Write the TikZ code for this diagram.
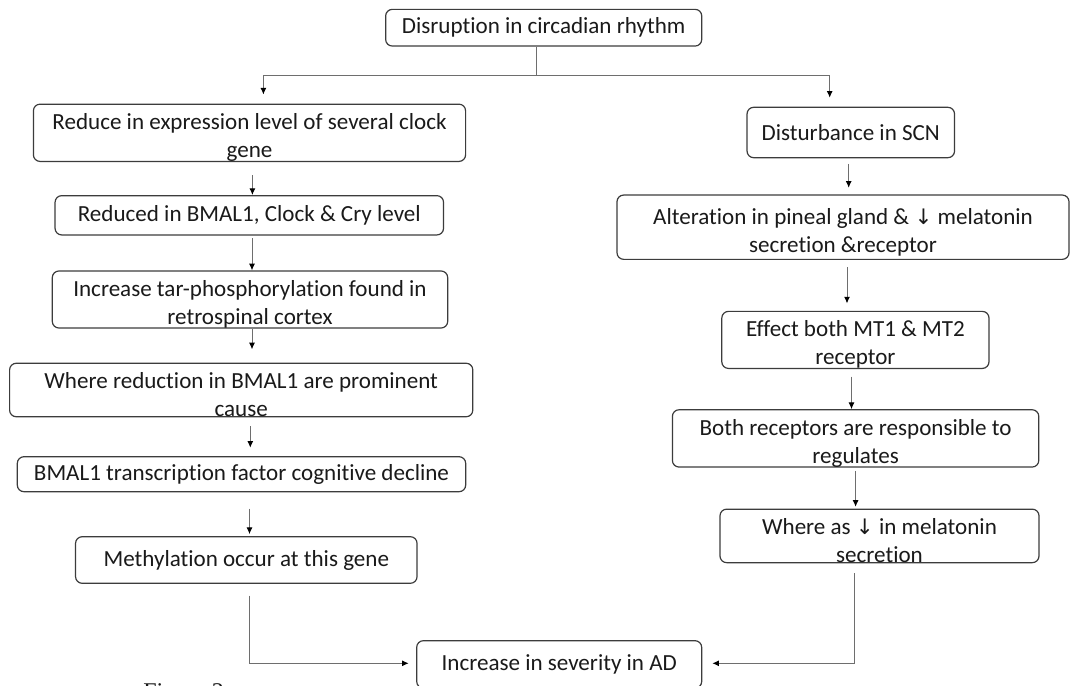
\documentclass[tikz,border=0pt]{standalone}
\usepackage{fontspec}
\setmainfont{Carlito}[Ligatures=NoCommon]
\newfontfamily\captionserif{Liberation Serif}
\newfontfamily\arrowfont{DejaVu Sans}
\usetikzlibrary{arrows.meta,calc}
\definecolor{boxline}{HTML}{3C3C3C}
\definecolor{wire}{HTML}{6E6E6E}
\definecolor{ink}{HTML}{1A1A1A}
\newcommand{\dn}{{\arrowfont\fontsize{16pt}{16pt}\selectfont ↓}}
% taller first line: keeps two-line texts a little below the box middle
\newcommand{\tallfirst}{\rule{0pt}{19pt}}
\begin{document}
\begin{tikzpicture}[x=0.75pt,y=-0.75pt,
  stepbox/.style 2 args={draw=boxline, line width=0.9pt, rounded corners=5pt,
    align=center, inner sep=0pt, text=ink,
    font=\fontsize{17.3pt}{21pt}\selectfont,
    minimum width=#1*0.75pt, minimum height=#2*0.75pt},
  wireline/.style={draw=wire, line width=0.75pt},
  arr/.style={wireline, -{Latex[length=5pt,width=4.5pt,color=black]}}]

\useasboundingbox (0,0) rectangle (1072,686);
\fill[white] (0,0) rectangle (1072,686);

% root
\node[stepbox={316.1}{36.7}] (T) at (543.7,27.7) {Disruption in circadian rhythm};

% left branch: clock genes
\node[stepbox={432.2}{51}]   (B1) at (249.5,132.8) {\tallfirst Reduce in expression level of several clock\\gene};
\node[stepbox={388.5}{39.3}] (B2) at (249.3,215.3) {Reduced in BMAL1, Clock \& Cry level};
\node[stepbox={395.4}{54.4}] (B3) at (250,299.5)   {\tallfirst Increase tar-phosphorylation found in\\retrospinal cortex};
\node[stepbox={463.2}{53.4}] (B4) at (241.2,390)   {\tallfirst Where reduction in BMAL1 are prominent\\cause};
\node[stepbox={448.4}{35}]   (B5) at (241.5,474.2) {BMAL1 transcription factor cognitive decline};
\node[stepbox={341.5}{46.6}] (B6) at (246.3,560)   {Methylation occur at this gene};

% right branch: SCN and melatonin
\node[stepbox={207.5}{50.4}] (R1) at (850.8,132.5) {Disturbance in SCN};
\node[stepbox={452}{64.3}]   (R2) at (843,227.2)   {\tallfirst Alteration in pineal gland \& \dn{} melatonin\\secretion \&receptor};
\node[stepbox={267.2}{51.7}] (R3) at (855.4,339.9) {\tallfirst Effect both MT1 \& MT2\\receptor};
\node[stepbox={366.4}{51.3}] (R4) at (855.6,438.4) {\tallfirst Both receptors are responsible to\\regulates};
\node[stepbox={319}{51.7}]   (R5) at (879.5,535.9) {\tallfirst Where as \dn{} in melatonin\\secretion};

% outcome
\node[stepbox={285}{47.4}]   (AD) at (559.2,664.4) {Increase in severity in AD};

% caption, cut by the page edge
\node[font=\captionserif\fontsize{18pt}{20pt}\selectfont, text=ink, anchor=base west, inner sep=0pt] (fig) at (143,699) {Figure 2};

% split below the root
\coordinate (split) at (536,75);
\draw[wireline] (T.south -| split) -- (split);
\draw[arr] (split) -| ($(B1.north)+(13.9,-9)$);
\draw[arr] (split) -| ($(R1.north)+(-21.1,-9)$);

% left chain
\draw[arr] ($(B1.south)+(2.9,13.4)$) coordinate (l1) -- (l1 |- B2.north);
\draw[arr] ($(B2.south)+(2.7,2.7)$) coordinate (l2) -- (l2 |- B3.north);
\draw[arr, shorten >=10pt] ($(B3.south)+(2,0.6)$) coordinate (l3) -- (l3 |- B4.north);
\draw[arr, shorten >=6.3pt] ($(B4.south)+(9.1,9)$) coordinate (l4) -- (l4 |- B5.north);
\draw[arr, shorten >=1.5pt] ($(B5.south)+(8,16.3)$) coordinate (l5) -- (l5 |- B6.north);
\draw[arr] ($(B6.south)+(2.7,11.7)$) |- ($(AD.west)+(-7.4,-1.1)$);

% right chain
\draw[arr, shorten >=5pt] ($(R1.south)+(-2.1,5.6)$) coordinate (r1) -- (r1 |- R2.north);
\draw[arr, shorten >=5.5pt] ($(R2.south)+(4,7.4)$) coordinate (r2) -- (r2 |- R3.north);
\draw[arr] ($(R3.south)+(-3.9,7.6)$) coordinate (r3) -- (r3 |- R4.north);
\draw[arr, shorten >=1.3pt] ($(R4.south)+(0,3.3)$) coordinate (r4) -- (r4 |- R5.north);
\draw[arr] ($(R5.south)+(-25.5,10)$) |- ($(AD.east)+(10,-1.1)$);

\end{tikzpicture}
\end{document}
